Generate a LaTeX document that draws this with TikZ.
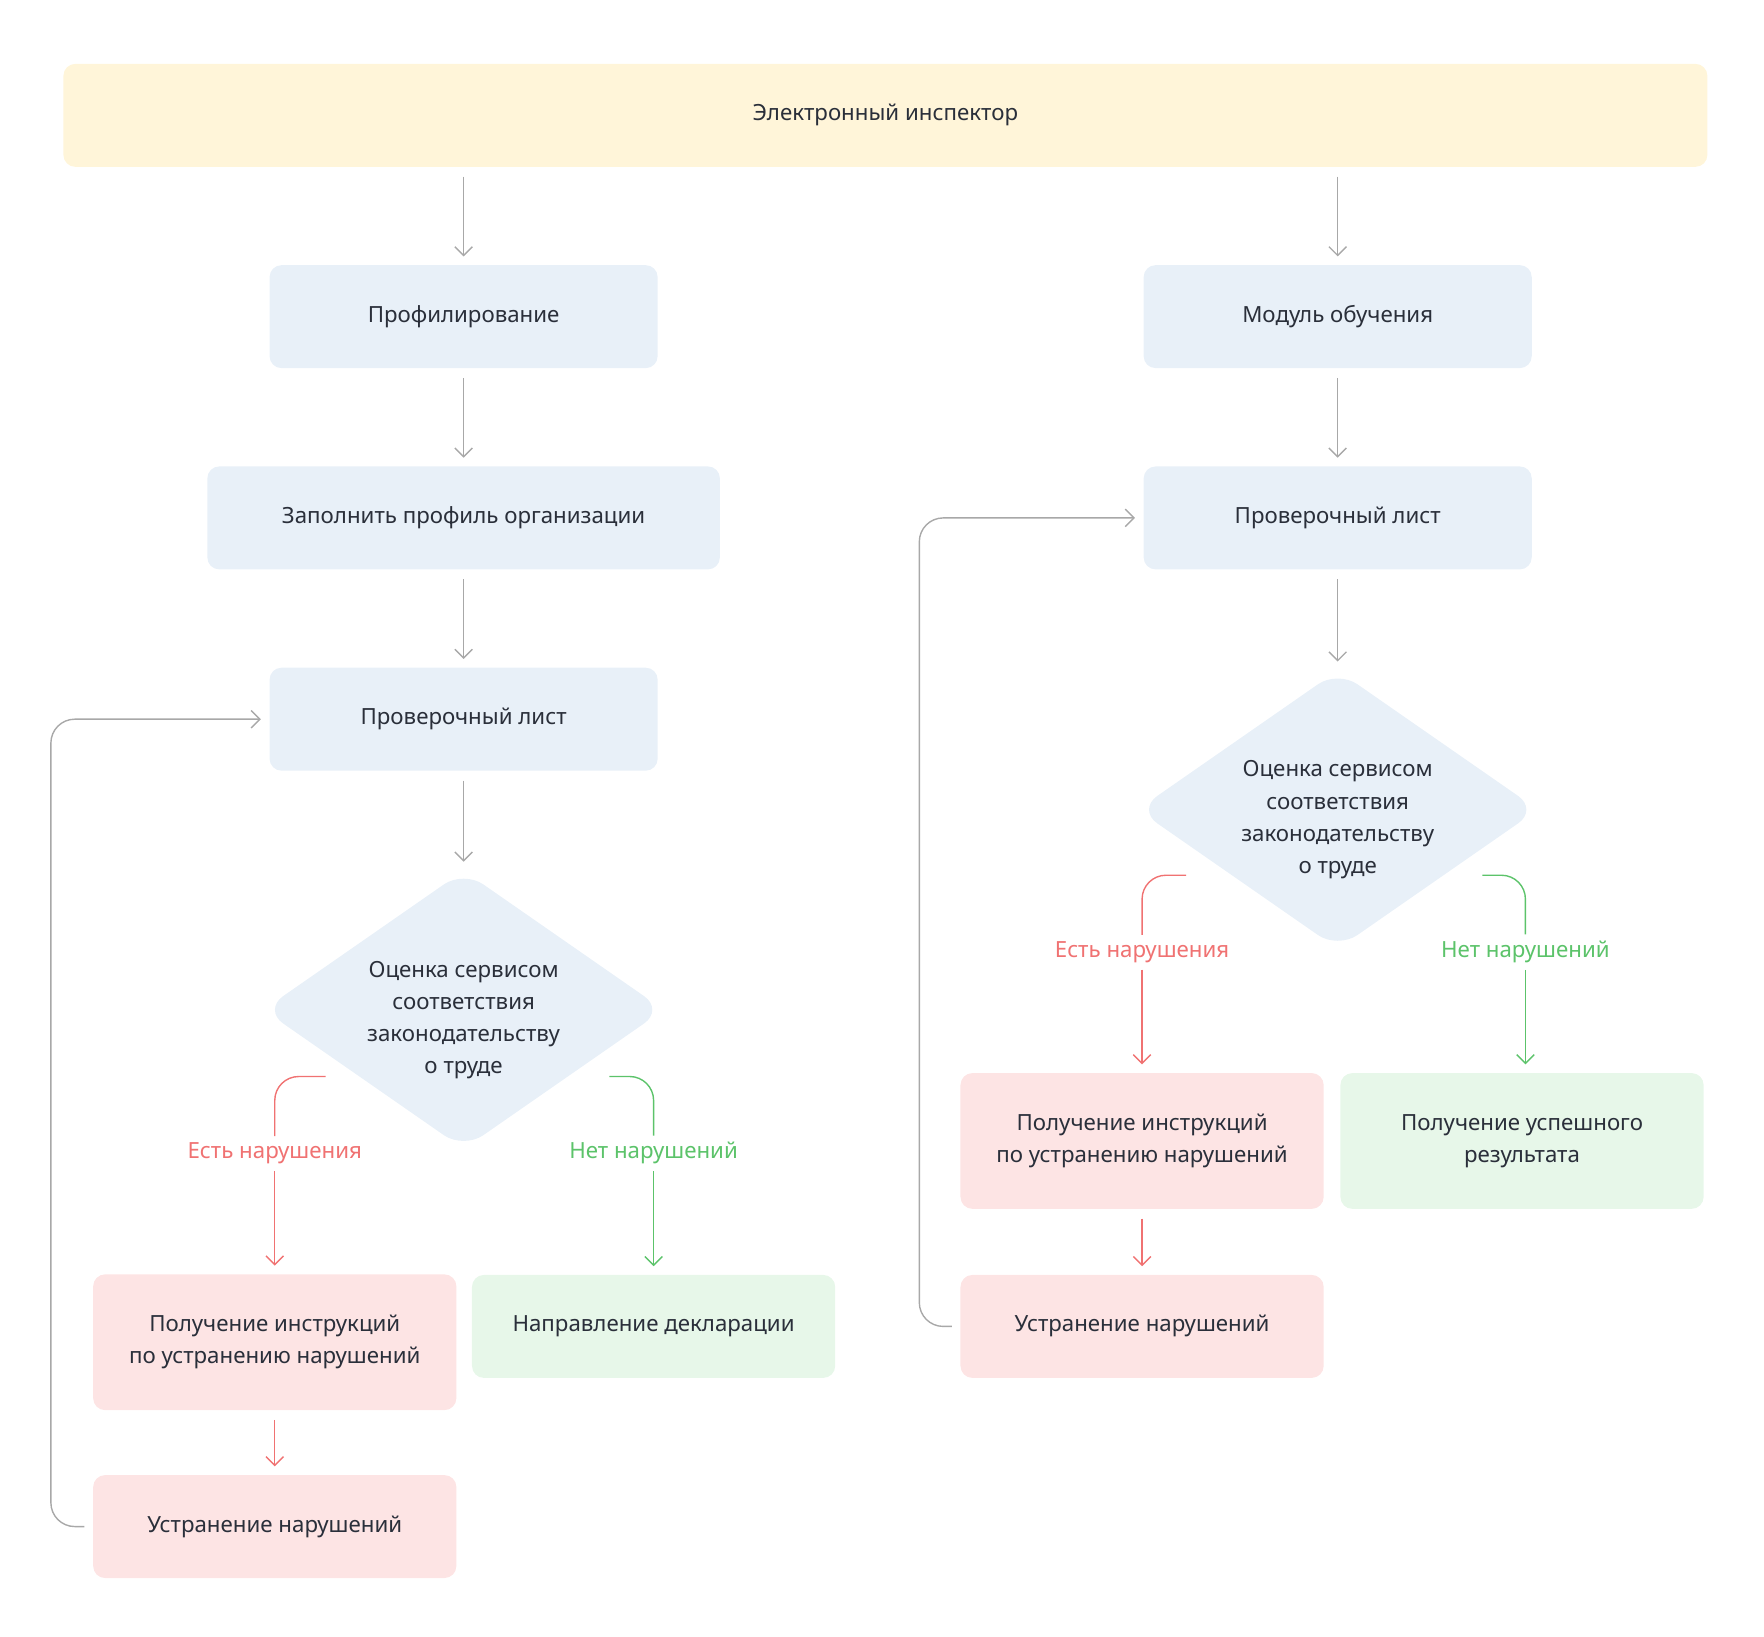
\documentclass[tikz,border=0pt]{standalone}
\usepackage{fontspec}
\setmainfont{Noto Sans}
\usetikzlibrary{arrows.meta,positioning}
\definecolor{txt}{HTML}{2A2F3A}
\definecolor{bluef}{HTML}{E8F0F8}
\definecolor{redf}{HTML}{FDE4E4}
\definecolor{greenf}{HTML}{E7F7E9}
\definecolor{yellowf}{HTML}{FFF5D9}
\definecolor{redl}{HTML}{F07272}
\definecolor{greenl}{HTML}{5CC36A}
\definecolor{grayl}{HTML}{A8A8A8}
\begin{document}
\begin{tikzpicture}[%
  x = 0.01cm, y = -0.01cm,
  font = \fontsize{5.6}{8.1}\selectfont\bfseries,
  box/.style = {rounded corners = 3pt, inner sep = 0pt, text = txt, align = center,
    minimum height = 0.91cm},
  blue/.style = {box, fill = bluef, minimum width = 3.43cm},
  red/.style = {box, fill = redf, minimum width = 3.21cm},
  green/.style = {box, fill = greenf, minimum width = 3.21cm},
  arr/.style = {draw = grayl, line width = 0.35pt, -{Straight Barb[length = 2.2pt, width = 4.4pt]}},
  lab/.style = {font = \fontsize{5.6}{7}\selectfont, fill = white, inner sep = 1.5pt},
  dia/.style = {fill = bluef, rounded corners = 6pt}]
  \useasboundingbox (0, 0) rectangle (1560, 1447);

  \node[box, fill = yellowf, minimum width = 14.53cm] (top) at (783, 102) {Электронный инспектор};

  % left column
  \node[blue] (prof) at (410, 280) {Профилирование};
  \node[blue, minimum width = 4.53cm] (fill) at (410, 458) {Заполнить профиль организации};
  \node[blue] (chkl) at (410, 636) {Проверочный лист};
  \fill[dia] (410, 770) -- (587, 893) -- (410, 1016) -- (233, 893) -- cycle;
  \node[text = txt, align = center] (evall) at (410, 902)
    {Оценка сервисом\\соответствия\\законодательству\\о труде};
  \node[red, minimum height = 1.2cm] (instl) at (243, 1187) {Получение инструкций\\по устранению нарушений};
  \node[green] (decl) at (578, 1173) {Направление декларации};
  \node[red] (fixl) at (243, 1350) {Устранение нарушений};

  % right column
  \node[blue] (mod) at (1183, 280) {Модуль обучения};
  \node[blue] (chkr) at (1183, 458) {Проверочный лист};
  \fill[dia] (1183, 593) -- (1360, 716) -- (1183, 839) -- (1006, 716) -- cycle;
  \node[text = txt, align = center] (evalr) at (1183, 725)
    {Оценка сервисом\\соответствия\\законодательству\\о труде};
  \node[red, minimum height = 1.2cm] (instr) at (1010, 1009) {Получение инструкций\\по устранению нарушений};
  \node[green, minimum height = 1.2cm] (okr) at (1346, 1009) {Получение успешного\\результата};
  \node[red] (fixr) at (1010, 1173) {Устранение нарушений};

  % branch labels
  \node[lab, text = redl] (yesl) at (243, 1020) {Есть нарушения};
  \node[lab, text = greenl] (nol) at (578, 1020) {Нет нарушений};
  \node[lab, text = redl] (yesr) at (1010, 842) {Есть нарушения};
  \node[lab, text = greenl] (nor) at (1349, 842) {Нет нарушений};
  \coordinate (dll) at (288, 952);
  \coordinate (dlr) at (539, 952);
  \coordinate (drl) at (1049, 774);
  \coordinate (drr) at (1311, 774);
  \coordinate (loopl) at (45, 636);
  \coordinate (loopr) at (813, 458);

  \draw[arr] ([yshift = -0.08cm]top.south -| prof) -- ([yshift = 0.07cm]prof.north);
  \draw[arr] ([yshift = -0.08cm]top.south -| mod) -- ([yshift = 0.07cm]mod.north);
  \draw[arr] ([yshift = -0.08cm]prof.south) -- ([yshift = 0.07cm]fill.north);
  \draw[arr] ([yshift = -0.08cm]fill.south) -- ([yshift = 0.07cm]chkl.north);
  \draw[arr] ([yshift = -0.08cm]chkl.south) -- (410, 762);
  \draw[arr] ([yshift = -0.08cm]mod.south) -- ([yshift = 0.07cm]chkr.north);
  \draw[arr] ([yshift = -0.08cm]chkr.south) -- (1183, 585);

  \draw[draw = redl, line width = 0.35pt, rounded corners = 6pt] (dll) -| (yesl.north);
  \draw[arr, draw = redl] (yesl.south) -- ([yshift = 0.07cm]instl.north -| yesl);
  \draw[draw = greenl, line width = 0.35pt, rounded corners = 6pt] (dlr) -| (nol.north);
  \draw[arr, draw = greenl] (nol.south) -- ([yshift = 0.07cm]decl.north);
  \draw[arr, draw = redl] ([yshift = -0.08cm]instl.south) -- ([yshift = 0.07cm]fixl.north);
  \draw[draw = redl, line width = 0.35pt, rounded corners = 6pt] (drl) -| (yesr.north);
  \draw[arr, draw = redl] (yesr.south) -- ([yshift = 0.07cm]instr.north);
  \draw[draw = greenl, line width = 0.35pt, rounded corners = 6pt] (drr) -| (nor.north);
  \draw[arr, draw = greenl] (nor.south) -- ([yshift = 0.07cm]okr.north -| nor);
  \draw[arr, draw = redl] ([yshift = -0.08cm]instr.south) -- ([yshift = 0.07cm]fixr.north);

  \draw[arr, rounded corners = 6pt] ([xshift = -0.07cm]fixl.west) -| (loopl) -- ([xshift = -0.07cm]chkl.west);
  \draw[arr, rounded corners = 6pt] ([xshift = -0.07cm]fixr.west) -| (loopr) -- ([xshift = -0.07cm]chkr.west);
\end{tikzpicture}
\end{document}
